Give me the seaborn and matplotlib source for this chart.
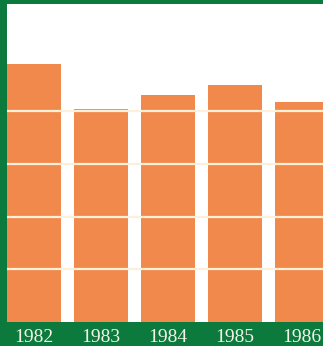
import matplotlib
matplotlib.use("Agg")
import matplotlib.pyplot as plt
import seaborn as sns
import pandas as pd

years = ["1982", "1983", "1984", "1985", "1986"]
values = [4.90, 4.04, 4.30, 4.49, 4.18]
grid_levels = [1, 2, 3, 4]

GREEN = "#0b7a3c"
ORANGE = "#f2894c"
CREAM = "#fdf0d8"

sns.set_theme(style="white")
plt.rcParams["font.family"] = ["Liberation Serif", "DejaVu Serif"]

W, H = 323, 346
fig = plt.figure(figsize=(W / 100, H / 100), dpi=100, facecolor=GREEN)
ax = fig.add_axes([7 / W, 24 / H, (W - 7) / W, (H - 4 - 24) / H])
ax.set_facecolor("white")

df = pd.DataFrame({"year": years, "value": values})
sns.barplot(data=df, x="year", y="value", color=ORANGE, saturation=1,
            width=0.806, linewidth=0, ax=ax)

ax.set_xlim(-0.403, 4.313)
ax.set_ylim(0, 6.03)
ax.set_yticks(grid_levels)
ax.set_yticklabels([])
ax.tick_params(axis="y", length=0)
ax.set_axisbelow(False)
ax.yaxis.grid(True, color=CREAM, linewidth=1.6)
ax.xaxis.grid(False)

ax.tick_params(axis="x", length=0, pad=5, labelsize=14, labelcolor="#f4f4ea")
ax.set_xlabel("")
ax.set_ylabel("")
for s in ax.spines.values():
    s.set_visible(False)

fig.savefig("out.png", dpi=100, facecolor=GREEN)
